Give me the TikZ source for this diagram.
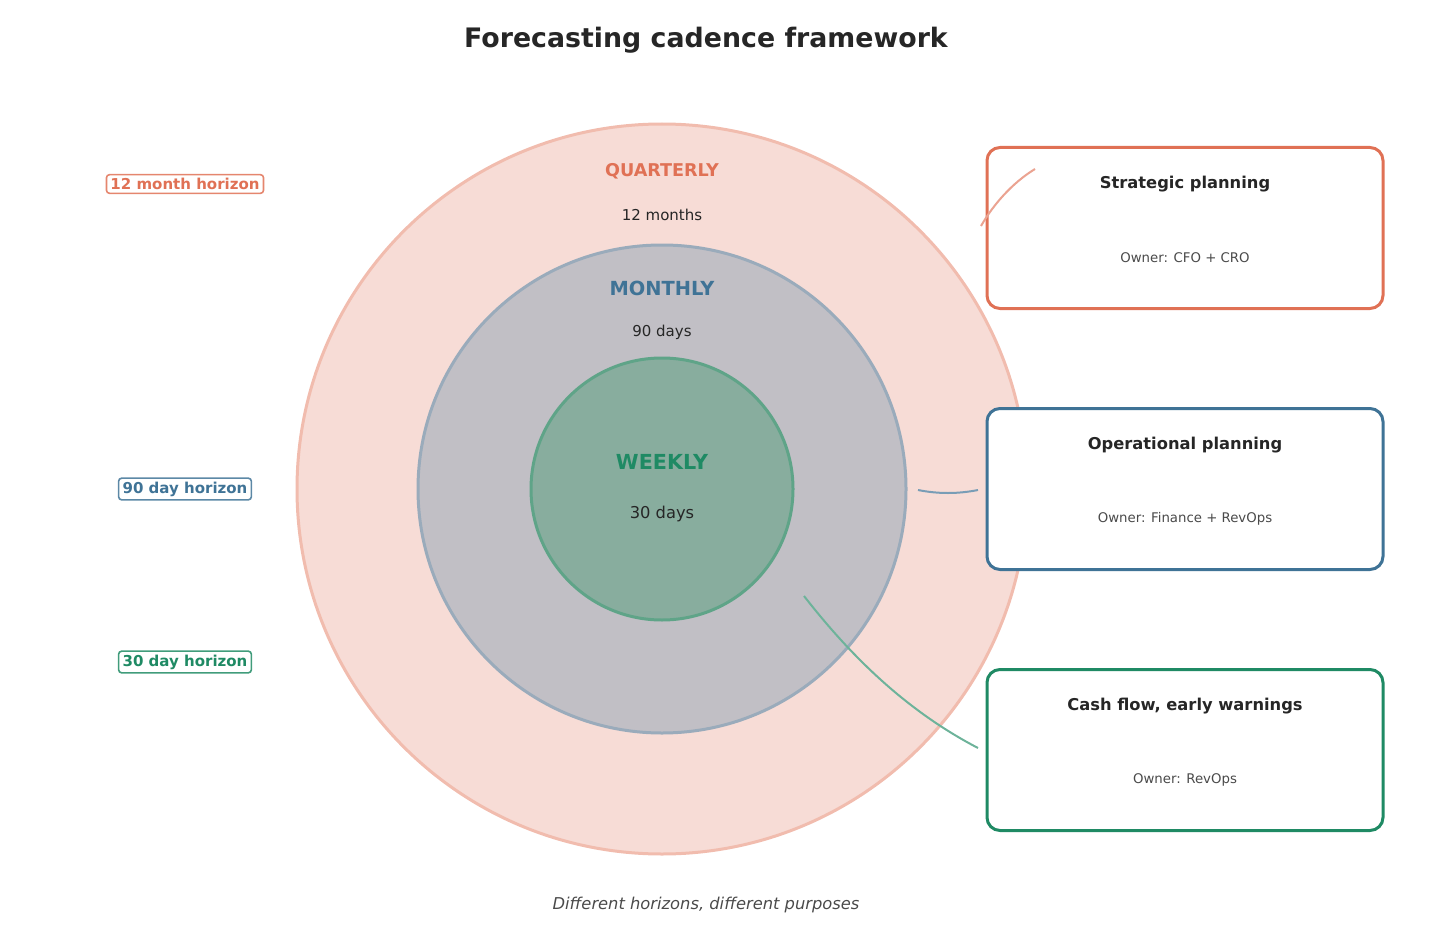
\documentclass[tikz,border=0pt]{standalone}
\usepackage{fontspec}
\setmainfont{DejaVu Sans}
\definecolor{coral}{HTML}{E07155}
\definecolor{blueC}{HTML}{3F7396}
\definecolor{greenC}{HTML}{1F8A64}
\definecolor{outerfill}{HTML}{F7DCD6}
\definecolor{outeredge}{HTML}{F1BCAE}
\definecolor{midfill}{HTML}{C1BFC5}
\definecolor{midedge}{HTML}{9AABBB}
\definecolor{innerfill}{HTML}{88AD9E}
\definecolor{inneredge}{HTML}{5FA488}
\definecolor{darktext}{HTML}{262626}
\definecolor{owner}{HTML}{4A4A4A}
\newcommand{\fs}[1]{\fontsize{#1}{#1}\selectfont}
\tikzset{
  card/.style={draw=#1, line width=3pt, fill=white, rounded corners=13pt, minimum width=396pt, minimum height=161pt},
  horizon/.style={draw=#1!85, text=#1, line width=1.6pt, rounded corners=3pt, font=\fs{15}\bfseries, inner xsep=4pt, inner ysep=3.5pt, fill=white},
  ring/.style={line width=3pt},
  lead/.style={line width=2pt},
}
\begin{document}
\begin{tikzpicture}[x=1pt,y=-1pt]
\useasboundingbox (0,0) rectangle (1456,952);
\node[font=\fs{26.8}\bfseries, text=darktext] (title) at (706,40) {Forecasting cadence framework};
% circles
\fill[outerfill] (662,489) circle[radius=365pt];
\draw[outeredge, ring] (662,489) circle[radius=365pt];
\fill[midfill] (662,489) circle[radius=244pt];
\draw[midedge, ring] (662,489) circle[radius=244pt];
\fill[innerfill] (662,489) circle[radius=131pt];
\draw[inneredge, ring] (662,489) circle[radius=131pt];
% circle labels
\node[font=\fs{17.6}\bfseries, text=coral] (q) at (662,171) {QUARTERLY};
\node[font=\fs{15}, text=darktext] (qd) at (662,215) {12 months};
\node[font=\fs{19.4}\bfseries, text=blueC] (m) at (662,288) {MONTHLY};
\node[font=\fs{15}, text=darktext] (md) at (662,332) {90 days};
\node[font=\fs{20.7}\bfseries, text=greenC] (w) at (662,462) {WEEKLY};
\node[font=\fs{16.3}, text=darktext] (wd) at (662,514) {30 days};
% horizon labels
\node[horizon=coral] (h12) at (185,184) {12 month horizon};
\node[horizon=blueC] (h90) at (185,489) {90 day horizon};
\node[horizon=greenC] (h30) at (185,662) {30 day horizon};
% cards
\node[card=coral] (c1) at (1185,228) {};
\node[card=blueC] (c2) at (1185,489) {};
\node[card=greenC] (c3) at (1185,750) {};
\node[font=\fs{16.3}\bfseries, text=darktext] (c1t) at (1185,184) {Strategic planning};
\node[font=\fs{13.3}, text=owner] (c1o) at (1185,258) {Owner: CFO + CRO};
\node[font=\fs{16.3}\bfseries, text=darktext] (c2t) at (1185,445) {Operational planning};
\node[font=\fs{13.3}, text=owner] (c2o) at (1185,519) {Owner: Finance + RevOps};
\node[font=\fs{16.3}\bfseries, text=darktext] (c3t) at (1185,706) {Cash flow, early warnings};
\node[font=\fs{13.3}, text=owner] (c3o) at (1185,780) {Owner: RevOps};
% leader lines
\coordinate (a1) at (981,226);
\coordinate (b1) at (1035,169);
\coordinate (a2) at (918,490);
\coordinate (b2) at (978,490);
\coordinate (a3) at (804,596);
\coordinate (b3) at (978,748);
\draw[lead, coral!65] (a1) .. controls (993,205) and (1012,183) .. (b1);
\draw[lead, blueC!70] (a2) .. controls (938,494) and (958,494) .. (b2);
\draw[lead, greenC!65] (a3) .. controls (850,655) and (905,710) .. (b3);
% footer
\node[font=\fs{16.3}\itshape, text=owner] (foot) at (706,905) {Different horizons, different purposes};
\end{tikzpicture}
\end{document}
